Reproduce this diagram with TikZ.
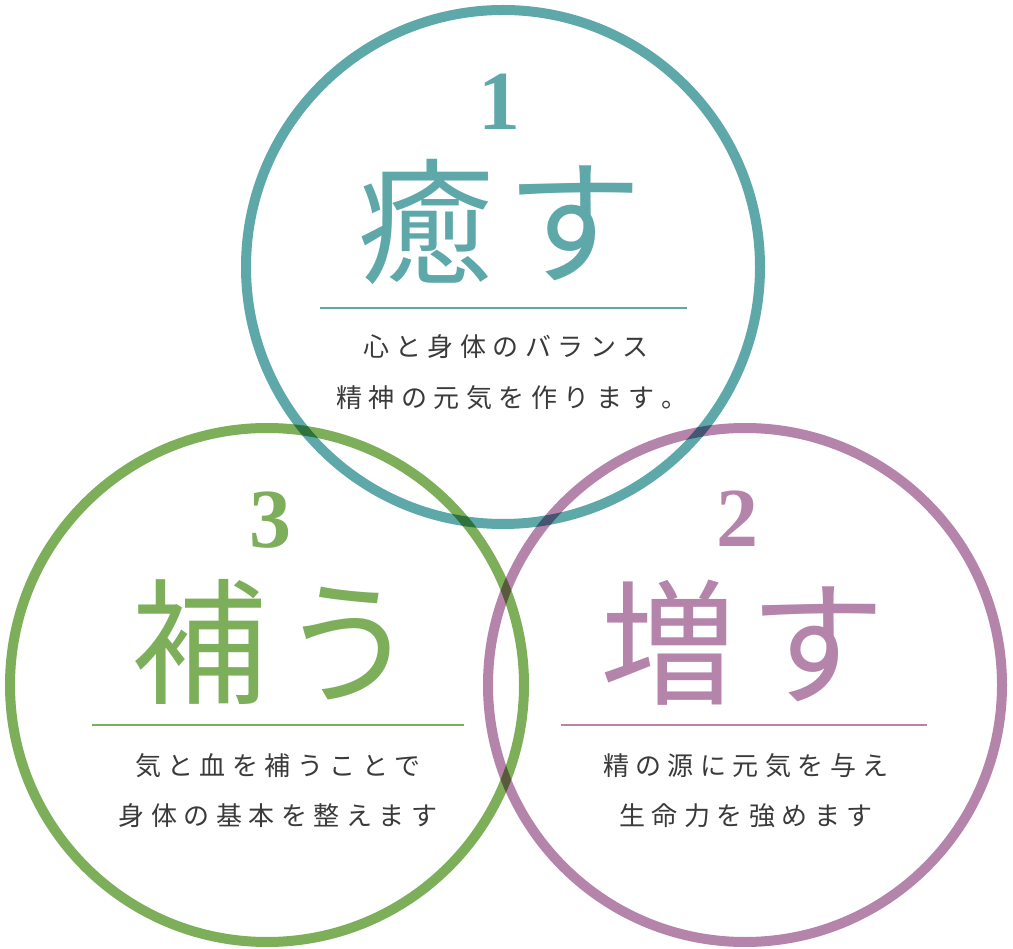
\documentclass[tikz,border=0pt]{standalone}
\usepackage{fontspec}
\newfontfamily\jpfont{Noto Sans CJK JP}
\newfontfamily\numfont{Liberation Serif}
\definecolor{teal1}{HTML}{5FA8AA}
\definecolor{green1}{HTML}{7DAE5A}
\definecolor{purple1}{HTML}{B584AB}
\definecolor{txt}{HTML}{3A3A3A}
\newcommand\jsp{\kern6.5pt{}}
\newcommand\bsp{\kern14pt{}}
\tikzset{
  ring/.style={circle, draw=#1, line width=10pt, minimum size=514pt, inner sep=0pt},
  numlabel/.style={text=#1, font=\numfont\bfseries\fontsize{84}{90}\selectfont, anchor=base, inner sep=0pt},
  biglabel/.style={text=#1, font=\jpfont\fontsize{136}{140}\selectfont, anchor=base, inner sep=0pt},
  desc/.style={text=txt, font=\jpfont\fontsize{26}{30}\selectfont, anchor=base, inner sep=0pt},
  rule/.style={draw=#1, line width=1.5pt}
}
\begin{document}
\begin{tikzpicture}[x=1pt,y=-1pt]
\useasboundingbox (0,0) rectangle (1013,949);
\begin{scope}[blend group=multiply]
  \node[ring=teal1] (c1) at (503,267) {};
  \node[ring=purple1] (c2) at (745,685) {};
  \node[ring=green1] (c3) at (267,685) {};
\end{scope}
% circle 1
\node[numlabel=teal1] (n1) at (499,130) {1};
\node[biglabel=teal1] (b1) at (500,274) {癒\bsp す};
\coordinate (r1a) at (320,308);
\coordinate (r1b) at (687,308);
\draw[rule=teal1] (r1a) -- (r1b);
\node[desc] (d1a) at (506,357) {心\jsp と\jsp 身\jsp 体\jsp の\jsp バ\jsp ラ\jsp ン\jsp ス};
\node[desc] (d1b) at (512,408) {精\jsp 神\jsp の\jsp 元\jsp 気\jsp を\jsp 作\jsp り\jsp ま\jsp す\jsp 。};
% circle 2
\node[numlabel=purple1] (n2) at (737,547) {2};
\node[biglabel=purple1] (b2) at (743,694) {増\bsp す};
\coordinate (r2a) at (561,725);
\coordinate (r2b) at (927,725);
\draw[rule=purple1] (r2a) -- (r2b);
\node[desc] (d2a) at (746,775) {精\jsp の\jsp 源\jsp に\jsp 元\jsp 気\jsp を\jsp 与\jsp え};
\node[desc] (d2b) at (746,825) {生\jsp 命\jsp 力\jsp を\jsp 強\jsp め\jsp ま\jsp す};
% circle 3
\node[numlabel=green1] (n3) at (270.5,548) {3};
\node[biglabel=green1] (b3) at (274,693) {補\bsp う};
\coordinate (r3a) at (92,725);
\coordinate (r3b) at (464,725);
\draw[rule=green1] (r3a) -- (r3b);
\node[desc] (d3a) at (278,775) {気\jsp と\jsp 血\jsp を\jsp 補\jsp う\jsp こ\jsp と\jsp で};
\node[desc] (d3b) at (278,825) {身\jsp 体\jsp の\jsp 基\jsp 本\jsp を\jsp 整\jsp え\jsp ま\jsp す};
\end{tikzpicture}
\end{document}
